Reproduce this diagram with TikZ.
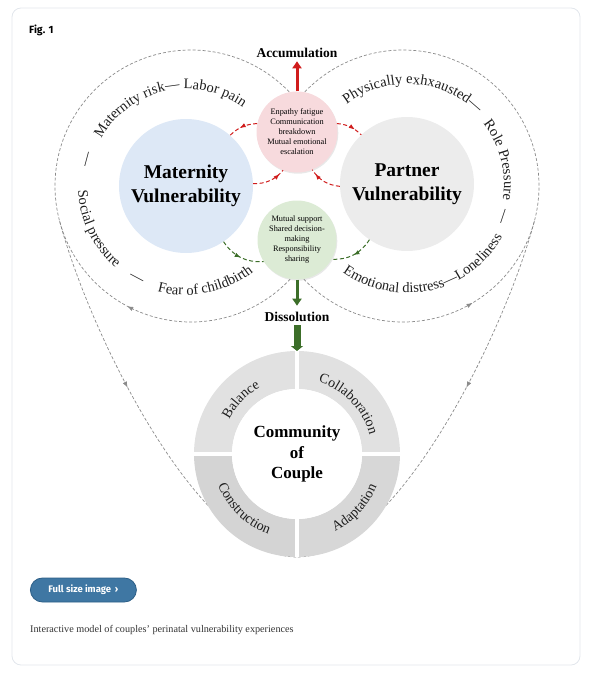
\documentclass[tikz,border=0pt]{standalone}
\usepackage{fontspec}
\setmainfont{Liberation Serif}
\newfontfamily\uisans{Fira Sans}
\usepackage{xcolor}
\usetikzlibrary{arrows.meta,positioning,calc,decorations.text,decorations.markings,shadows}

\definecolor{matblue}{HTML}{DDE8F6}
\definecolor{partgray}{HTML}{ECECEC}
\definecolor{confpink}{HTML}{F7DADD}
\definecolor{suppgreen}{HTML}{DCEBD5}
\definecolor{accred}{HTML}{D01C1C}
\definecolor{dissgreen}{HTML}{3C6E29}
\definecolor{dashgray}{HTML}{8A8A8A}
\definecolor{ringlight}{HTML}{E1E1E1}
\definecolor{ringdark}{HTML}{D4D4D4}
\definecolor{arcink}{HTML}{1E1E1E}
\definecolor{cardline}{HTML}{E2E6EC}
\definecolor{pillblue}{HTML}{3F77A3}
\definecolor{pilledge}{HTML}{2C5E86}
\definecolor{capgray}{HTML}{333333}

% text bent along an arc: centre, radius, from, to, size, text
\newcommand{\arcword}[6]{%
  \path[decorate,decoration={text along path,text align=center,
    text={|\fontsize{#5}{#5}\selectfont\color{arcink}|#6}}]
    (#1) ++(#3:#2) arc[start angle=#3,end angle=#4,radius=#2];}

\begin{document}
\begin{tikzpicture}[x=1pt,y=1pt,>=Latex,
  gline/.style={dashgray,dash pattern=on 3pt off 2pt,line width=0.7pt},
  redarr/.style={accred,dash pattern=on 4pt off 2.5pt,line width=1pt},
  grnarr/.style={dissgreen,dash pattern=on 4pt off 2.5pt,line width=1pt},
  midarrow/.style={postaction={decorate,decoration={markings,
    mark=at position #1 with {\arrow{Latex[length=6pt,width=4.5pt]}}}}},
  bigvul/.style={circle,minimum size=134pt,inner sep=0pt,align=center,
    font=\fontsize{19.5}{25}\selectfont\bfseries},
  small/.style={circle,minimum size=81pt,inner sep=0pt,align=center,
    font=\fontsize{8.3}{10}\selectfont,
    drop shadow={opacity=0.18,shadow xshift=0.8pt,shadow yshift=-1.2pt}},
  phase/.style={font=\fontsize{13.5}{15}\selectfont\bfseries}]

  \useasboundingbox (0,0) rectangle (612,-680);
  \draw[cardline,rounded corners=9pt,line width=0.8pt] (12,-8) rectangle (580,-665);
  \node[anchor=west,inner sep=0pt,font=\uisans\bfseries\fontsize{10.5}{12}\selectfont] (fig) at (29,-30) {Fig. 1};

  % outer loops
  \node[circle,minimum size=272pt,inner sep=0pt,outer sep=0pt] (lc) at (191,-186) {};
  \node[circle,minimum size=272pt,inner sep=0pt,outer sep=0pt] (rc) at (403,-186) {};
  \node[circle,minimum size=206pt,inner sep=0pt,outer sep=0pt] (ring) at (297,-454) {};
  \node[circle,minimum size=130pt,inner sep=0pt,outer sep=0pt] (core) at (297,-454) {};
  \draw[gline,midarrow=0.28] (lc.321) arc[start angle=321,end angle=39,radius=136];
  \draw[gline,midarrow=0.29] (rc.219) arc[start angle=-141,end angle=141,radius=136];
  \draw[gline,midarrow=0.42] (lc.195) .. controls +(-75:120) and +(180:97) .. (ring.south);
  \draw[gline,midarrow=0.42] (rc.345) .. controls +(-105:120) and +(0:97) .. (ring.south);

  % vulnerabilities
  \node[bigvul,fill=matblue] (mv) at (186,-186) {Maternity\\[-1pt]Vulnerability};
  \node[bigvul,fill=partgray] (pv) at (407,-184) {Partner\\[-1pt]Vulnerability};
  \node[small,fill=confpink] (conf) at (297,-132)
    {Enpathy fatigue\\Communication\\breakdown\\Mutual emotional\\escalation};
  \node[small,fill=suppgreen,minimum size=79pt] (supp) at (297,-240)
    {Mutual support\\Shared decision-\\making\\Responsibility\\sharing};

  \draw[redarr,midarrow=0.6] (conf.168) to[bend right=20] (mv.49);
  \draw[redarr,midarrow=0.85] (mv.2) to[bend right=25] (conf.250);
  \draw[redarr,midarrow=0.7] (conf.12) to[bend left=20] (pv.133);
  \draw[redarr,midarrow=0.85] (pv.182) to[bend left=25] (conf.292);
  \draw[grnarr,midarrow=0.5] (mv.304) to[bend right=30] (supp.213);
  \draw[grnarr,midarrow=0.5] (pv.236) to[bend left=30] (supp.331);

  \node[phase] (acc) at (297,-53) {Accumulation};
  \node[phase] (diss) at (297,-317) {Dissolution};
  \draw[accred,line width=3pt,-{Triangle[length=7pt,width=9pt]}] (conf.north) -- (acc.south);
  \draw[dissgreen,line width=3pt,-{Triangle[length=7pt,width=9pt]},shorten >=3pt] (supp.south) -- (diss.north);

  % labels round the two vulnerabilities
  \arcword{186,-186}{97}{170}{35}{14.5}{Maternity risk— Labor pain}
  \arcword{186,-186}{106}{145}{185}{14.5}{—}
  \arcword{186,-186}{108}{166}{246}{14.5}{Social pressure}
  \arcword{186,-186}{108}{222}{262}{14.5}{—}
  \arcword{186,-186}{109}{236}{327}{14.5}{Fear of childbirth}
  \arcword{407,-184}{100}{146}{26}{14.5}{Physically exhxausted—}
  \arcword{407,-184}{97}{54.5}{-25.5}{14.5}{Role Pressure}
  \arcword{407,-184}{98}{2}{-39}{14.5}{—}
  \arcword{407,-184}{109}{-140}{-15}{14.5}{Emotional distress—Loneliness}

  % community ring
  \fill[ringlight] (ring.180) arc[start angle=180,end angle=90,radius=103] -- (core.90) arc[start angle=90,end angle=180,radius=65] -- cycle;
  \fill[ringlight] (ring.90) arc[start angle=90,end angle=0,radius=103] -- (core.0) arc[start angle=0,end angle=90,radius=65] -- cycle;
  \fill[ringdark] (ring.180) arc[start angle=180,end angle=270,radius=103] -- (core.270) arc[start angle=270,end angle=180,radius=65] -- cycle;
  \fill[ringdark!80!ringlight] (ring.270) arc[start angle=270,end angle=360,radius=103] -- (core.0) arc[start angle=0,end angle=-90,radius=65] -- cycle;
  \draw[white,line width=4.5pt] (ring.north) -- (ring.south);
  \draw[white,line width=4.5pt] (ring.west) -- (ring.east);
  \node[circle,fill=white,minimum size=130pt,inner sep=0pt,align=center,
    font=\fontsize{17}{20.5}\selectfont\bfseries] at (core) {Community\\of\\Couple};
  \arcword{297,-454}{76}{176}{96}{14}{Balance}
  \arcword{297,-454}{75}{94}{-6}{14}{Collaboration}
  \arcword{297,-454}{85}{186}{266}{14}{Construction}
  \arcword{297,-454}{86}{272}{362}{14}{Adaptation}
  \draw[dissgreen,line width=7pt,-{Triangle[length=5pt,width=12pt]}] (diss.south) -- (ring.north);

  % footer
  \node[anchor=west,fill=pillblue,draw=pilledge,line width=0.8pt,rounded corners=12pt,
    minimum width=106pt,minimum height=24pt,text=white,
    font=\uisans\bfseries\fontsize{9.5}{11}\selectfont] (full) at (30,-590) {Full size image \,›};
  \node[anchor=west,inner sep=0pt,text=capgray,font=\fontsize{10.2}{12}\selectfont] (cap) at (30,-630)
    {Interactive model of couples’ perinatal vulnerability experiences};
\end{tikzpicture}
\end{document}
